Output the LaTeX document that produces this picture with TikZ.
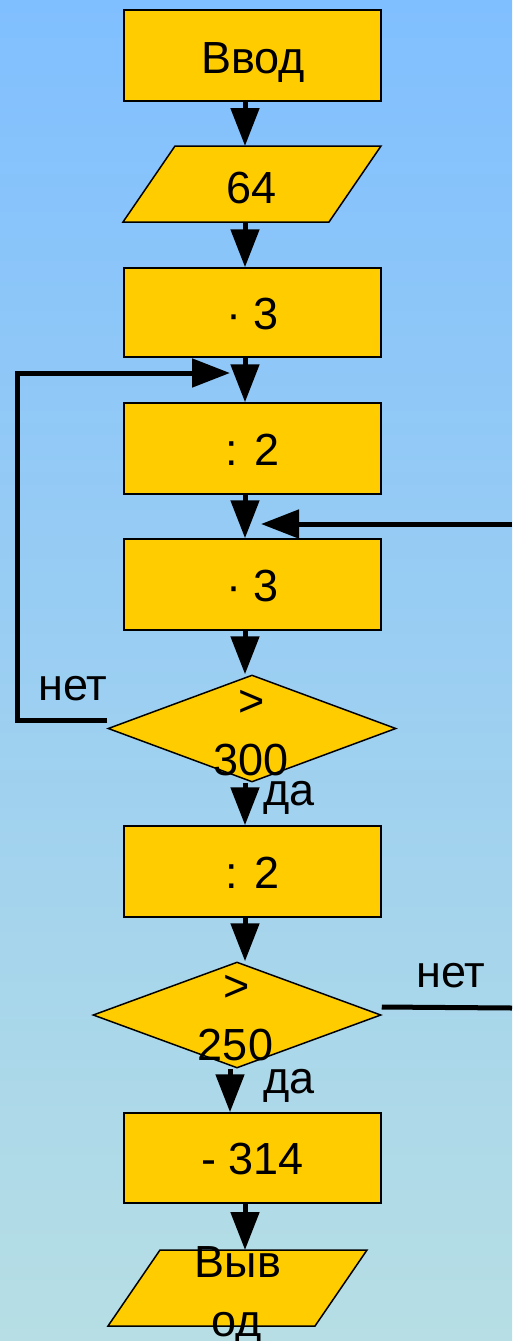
\documentclass[tikz,border=0pt]{standalone}
\usepackage{fontspec}
\setmainfont{Liberation Sans}
\usetikzlibrary{arrows.meta,shapes.geometric}
\definecolor{boxyellow}{RGB}{255,204,0}
\definecolor{bgtop}{RGB}{128,191,255}
\definecolor{bgbot}{RGB}{182,222,228}
\begin{document}
\begin{tikzpicture}[x=1pt,y=-1pt,
 box/.style={draw=black, line width=1.5pt, fill=boxyellow, minimum width=257pt, inner sep=0pt},
 frame/.style={inner sep=0pt, outer sep=0pt},
 shp/.style={draw=black, line width=1.5pt, fill=boxyellow},
 dia/.style={diamond, draw=black, line width=1.5pt, fill=boxyellow, inner sep=0pt, minimum width=288pt},
 txt/.style={anchor=base, inner sep=0pt, font=\fontsize{45}{54}\selectfont},
 arr/.style={line width=5pt, -{Triangle[width=28pt,length=38pt]}},
 ln/.style={line width=5pt}]
\shade[top color=bgtop, bottom color=bgbot] (0,0) rectangle (512,1341);
\useasboundingbox (0,0) rectangle (512,1341);
% shapes
\node[box, minimum height=91pt] (b1) at (252.5,55.5) {};
\node[frame, minimum width=258pt, minimum height=76pt] (p1) at (252,184) {};
\draw[shp] (p1.south west) -- ([xshift=-52pt]p1.south east) -- (p1.north east) -- ([xshift=52pt]p1.north west) -- cycle;
\node[box, minimum height=89pt] (b2) at (252.5,312.5) {};
\node[box, minimum height=91pt] (b3) at (252.5,448.5) {};
\node[box, minimum height=91pt] (b4) at (252.5,584.5) {};
\node[dia, minimum height=107pt] (d1) at (252,728.5) {};
\node[box, minimum height=91pt] (b5) at (252.5,871.5) {};
\node[dia, minimum height=106pt] (d2) at (237,1015) {};
\node[box, minimum height=90pt] (b6) at (252.5,1158) {};
\node[frame, minimum width=259pt, minimum height=76pt] (p2) at (237.5,1288) {};
\draw[shp] (p2.south west) -- ([xshift=-52pt]p2.south east) -- (p2.north east) -- ([xshift=52pt]p2.north west) -- cycle;
% texts
\node[txt] (t1) at (253,73) {Ввод};
\node[txt] (t2) at (252,203) {64};
\node[txt] (t3) at (252.5,329) {· 3};
\node[txt] (t4) at (252.5,465) {: 2};
\node[txt] (t5) at (252.5,601) {· 3};
\node[txt] (t6a) at (252,716) {>};
\node[txt] (t6b) at (251,775) {300};
\node[txt] (t7) at (252.5,888) {: 2};
\node[txt] (t8a) at (236.5,1001) {>};
\node[txt] (t8b) at (235.5,1060) {250};
\node[txt] (t9) at (252.5,1174) {- 314};
\node[txt] (t10a) at (238,1277) {Выв};
\node[txt] (t10b) at (237,1336) {од};
\node[txt] (n1) at (73,700) {нет};
\node[txt] (y1) at (289,805) {да};
\node[txt] (n2) at (451,987) {нет};
\node[txt] (y2) at (289,1093) {да};
% connectors
\coordinate (ax) at (245,0);
\coordinate (ax2) at (230,0);
\draw[arr] (b1.south -| ax) -- (p1.north -| ax);
\draw[arr] (p1.south -| ax) -- (b2.north -| ax);
\draw[arr] (b2.south -| ax) -- (b3.north -| ax);
\draw[arr] (b3.south -| ax) -- (b4.north -| ax);
\draw[arr] (b4.south -| ax) -- (d1.north -| ax);
\draw[arr] (d1.south -| ax) -- (b5.north -| ax);
\draw[arr] (b5.south -| ax) -- (d2.north -| ax);
\draw[arr] (d2.south -| ax2) -- (b6.north -| ax2);
\draw[arr] (b6.south -| ax) -- (p2.north -| ax);
\coordinate (c1) at (17,720);
\coordinate (c2) at (17,373);
\coordinate (c3) at (230,373);
\draw[arr] ([yshift=8.5pt]d1.west) -- (c1) -- (c2) -- (c3);
\coordinate (r1) at (512,524);
\coordinate (r2) at (261,524);
\draw[arr] (r1) -- (r2);
\coordinate (r3) at (512,1008);
\draw[ln] ([yshift=8pt]d2.east) -- (r3);
\end{tikzpicture}
\end{document}
